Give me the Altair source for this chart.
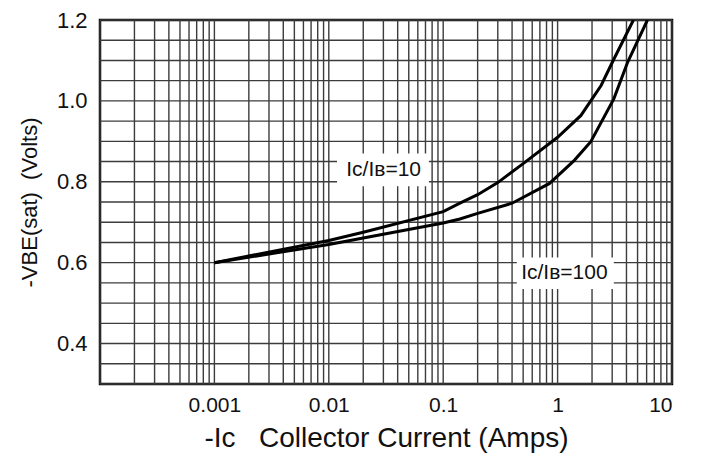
import altair as alt
import pandas as pd

# Curve Ic/Ib = 10
ic10_x = [0.001, 0.01, 0.02, 0.1, 0.14, 0.2, 0.3, 0.5, 1.0, 1.6, 2.4, 3.1, 4.6]
ic10_y = [0.600, 0.655, 0.675, 0.726, 0.747, 0.768, 0.798, 0.845, 0.910, 0.964, 1.038, 1.103, 1.200]

# Curve Ic/Ib = 100
ic100_x = [0.001, 0.01, 0.02, 0.1, 0.14, 0.2, 0.4, 0.85, 1.4, 1.95, 3.1, 4.1, 6.1]
ic100_y = [0.600, 0.645, 0.661, 0.698, 0.708, 0.722, 0.747, 0.796, 0.853, 0.899, 1.005, 1.096, 1.200]

x_tick_values = [0.001, 0.01, 0.1, 1, 10]
y_tick_values = [0.4, 0.6, 0.8, 1.0, 1.2]

grid_x = [m * 10.0 ** e for e in range(-4, 1) for m in range(1, 10)] + [10.0]
grid_y = [round(0.3 + 0.05 * i, 2) for i in range(19)]

# annotation labels and their white boxes
ann_label = ["Iᴄ/Iʙ=10", "Iᴄ/Iʙ=100"]
ann_x = [0.0142, 0.48]
ann_y = [0.828, 0.575]
box_x = [0.0118, 0.44]
box_x2 = [0.075, 3.1]
box_y = [0.789, 0.535]
box_y2 = [0.870, 0.613]

curves = pd.DataFrame(
    {"x": ic10_x + ic100_x,
     "y": ic10_y + ic100_y,
     "series": ["10"] * len(ic10_x) + ["100"] * len(ic100_x)}
)
gx = pd.DataFrame({"x": grid_x})
gy = pd.DataFrame({"y": grid_y})
ann = pd.DataFrame({"x": ann_x, "y": ann_y, "label": ann_label})
boxes = pd.DataFrame({"x": box_x, "x2": box_x2, "y": box_y, "y2": box_y2})

xscale = alt.Scale(type="log", domain=[1e-4, 10], nice=False)
yscale = alt.Scale(domain=[0.3, 1.2], nice=False)

NB = "\u00a0"
xaxis = alt.Axis(values=x_tick_values, format="~g", grid=False, ticks=False, domain=False,
                 labelFontSize=21, labelPadding=10, labelColor="#111",
                 title="-Ic" + NB * 3 + "Collector Current (Amps)", titleFontSize=28,
                 titleFontWeight="normal", titlePadding=9, titleColor="#111")
yaxis = alt.Axis(values=y_tick_values, format=".1f", grid=False, ticks=False, domain=False,
                 labelFontSize=22, labelPadding=13, labelColor="#111",
                 title="-VBE(sat)" + NB * 2 + "(Volts)", titleFontSize=22,
                 titleFontWeight="normal", titlePadding=15, titleColor="#111")

X = alt.X("x:Q", scale=xscale, axis=xaxis)
Y = alt.Y("y:Q", scale=yscale, axis=yaxis)

vgrid = alt.Chart(gx).mark_rule(color="#3c3c3c", strokeWidth=1.4).encode(x=X)
hgrid = alt.Chart(gy).mark_rule(color="#3c3c3c", strokeWidth=1.4).encode(y=Y)

rects = alt.Chart(boxes).mark_rect(color="white").encode(
    x=X, x2="x2:Q", y=Y, y2="y2:Q")

texts = alt.Chart(ann).mark_text(align="left", baseline="middle", fontSize=21,
                                 color="#111").encode(x=X, y=Y, text="label:N")

lines = alt.Chart(curves).mark_line(color="black", strokeWidth=3, clip=True).encode(
    x=X, y=Y, detail="series:N")

chart = alt.layer(vgrid, hgrid, rects, texts, lines).properties(
    width=572, height=364,
    padding={"left": 92, "top": 12, "right": 30, "bottom": 78},
    autosize=alt.AutoSizeParams(type="none"),
).configure(
    font="Liberation Sans",
).configure_view(
    stroke="black", strokeWidth=2.5
)

chart.save("out.html", embed_options={"renderer": "svg", "actions": False})
